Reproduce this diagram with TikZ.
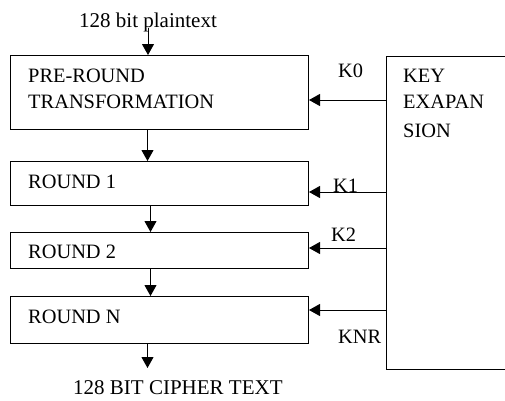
\documentclass[tikz,border=0pt]{standalone}
\usepackage{fontspec}
\setmainfont{Liberation Serif}
\usetikzlibrary{arrows.meta,calc}
\begin{document}
\begin{tikzpicture}[x=1pt,y=-1pt,
  box/.style={draw,line width=1pt,rectangle,inner sep=0pt,anchor=north west},
  lbl/.style={inner sep=0pt,anchor=base west,font=\fontsize{20.4}{26}\selectfont},
  big/.style={lbl,font=\fontsize{21}{26}\selectfont},
  arr/.style={line width=1pt,-{Triangle[width=12pt,length=11pt]}}]
\useasboundingbox (0,0) rectangle (505,400);
% boxes
\node[box,minimum width=298pt,minimum height=74pt] (pre) at (10,55) {};
\node[box,minimum width=298pt,minimum height=44pt] (r1) at (10,161) {};
\node[box,minimum width=298pt,minimum height=36pt] (r2) at (10,232) {};
\node[box,minimum width=298pt,minimum height=47pt] (rn) at (10,296) {};
\node[inner sep=0pt,anchor=north west,minimum width=140pt,minimum height=313pt] (key) at (386,56) {};
\draw[line width=1pt] (key.north east) -- (key.north west) -- (key.south west) -- (key.south east);
% texts
\node[lbl] (tpre1) at (28,82) {PRE-ROUND};
\node[lbl] (tpre2) at (28,108) {TRANSFORMATION};
\node[lbl] (tr1) at (28,188) {ROUND 1};
\node[lbl] (tr2) at (28,258) {ROUND 2};
\node[lbl] (trn) at (28,323) {ROUND N};
\node[lbl] (tkey1) at (403,82) {KEY};
\node[lbl] (tkey2) at (403,108) {EXAPAN};
\node[lbl] (tkey3) at (403,137) {SION};
\node[big] (in) at (79,27) {128 bit plaintext};
\node[big] (out) at (73,394) {128 BIT CIPHER TEXT};
\node[lbl] (k0) at (338,77) {K0};
\node[lbl] (k1) at (333,192) {K1};
\node[lbl] (k2) at (331,241) {K2};
\node[lbl] (knr) at (338,343) {KNR};
% vertical flow
\coordinate (a0) at (148,28);
\draw[arr] (a0) -- (a0 |- pre.north);
\draw[arr] ([xshift=-12pt]pre.south) -- ([xshift=-12pt]r1.north);
\draw[arr] ([xshift=-9pt]r1.south) -- ([xshift=-9pt]r2.north);
\draw[arr] ([xshift=-9pt]r2.south) -- ([xshift=-9pt]rn.north);
\draw[arr] ([xshift=-12pt]rn.south) -- ([xshift=-12pt]rn.south |- 0,368) coordinate (outend);
% key arrows
\draw[arr] (key.west |- 0,100) -- (pre.east |- 0,100);
\draw[arr] (key.west |- 0,192) -- (r1.east |- 0,192);
\draw[arr] (key.west |- 0,248) -- (r2.east |- 0,248);
\draw[arr] (key.west |- 0,310) -- (rn.east |- 0,310);
\end{tikzpicture}
\end{document}
